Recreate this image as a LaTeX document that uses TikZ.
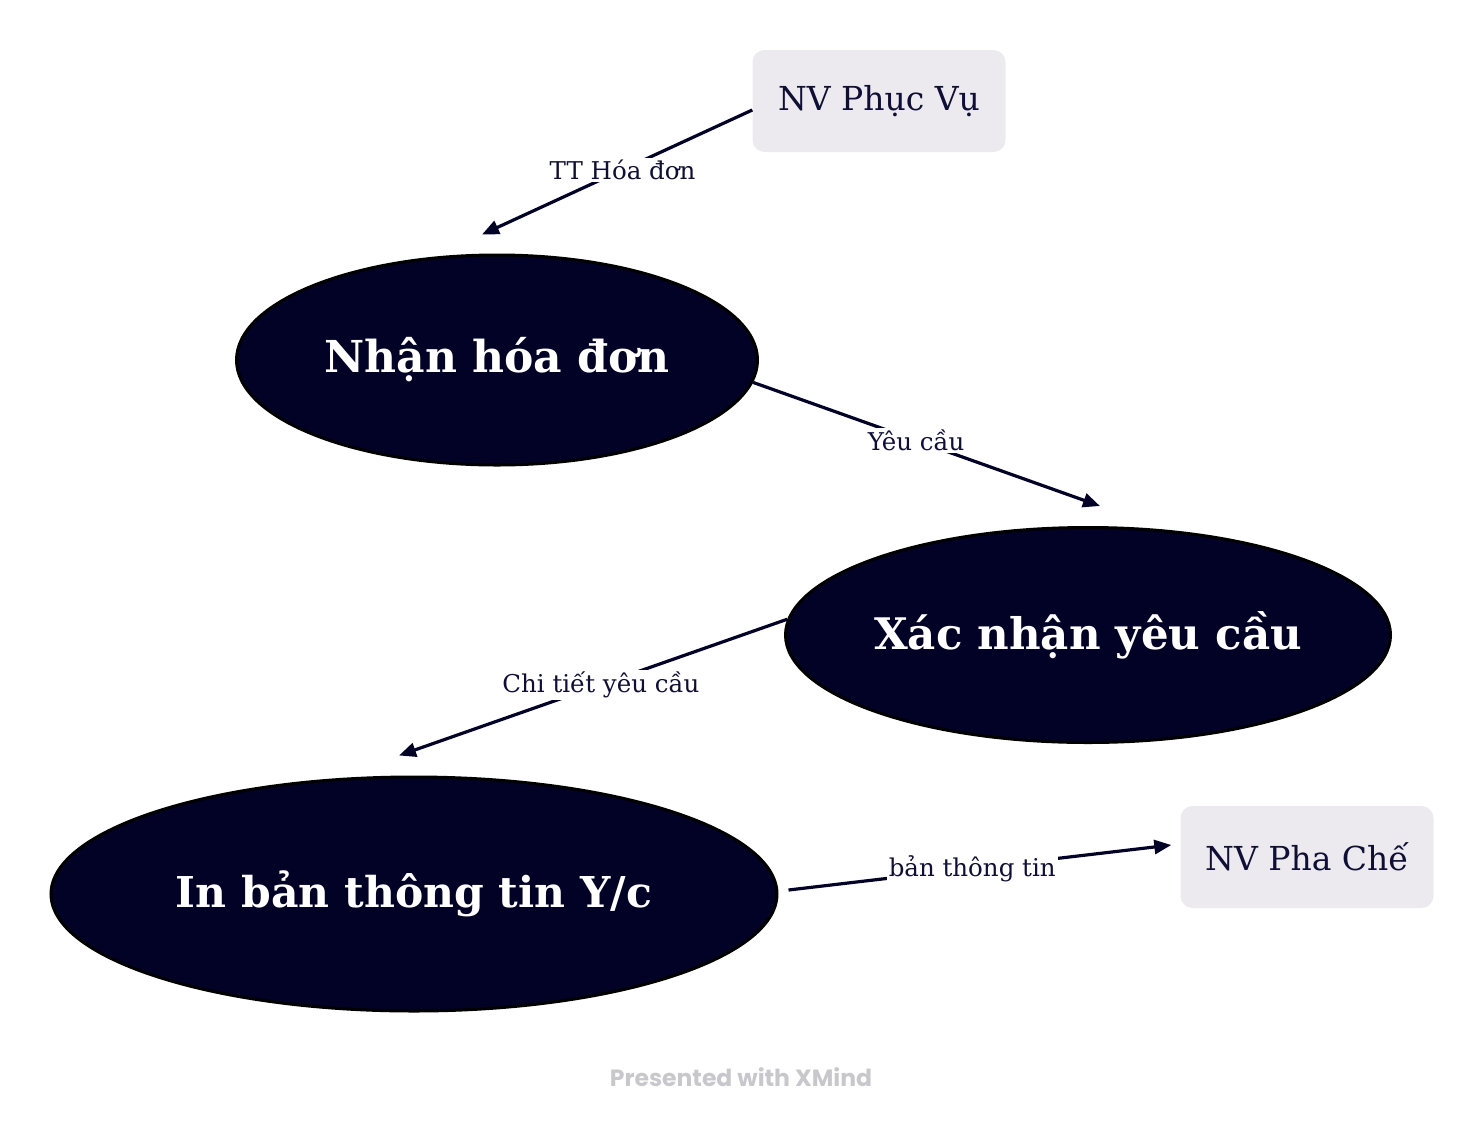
\documentclass[tikz,border=0pt]{standalone}
\usepackage{fontspec}
\setmainfont{DejaVu Serif}
\newfontfamily\markfont{Poppins}
\usetikzlibrary{arrows.meta,shapes.geometric}
\definecolor{navy}{HTML}{020226}
\definecolor{inkblue}{HTML}{0F0F35}
\definecolor{boxgrey}{HTML}{ECEAEE}
\definecolor{markgrey}{HTML}{C8C8CC}
\tikzset{
  taskoval/.style={
    ellipse, draw=black, line width=3pt, fill=navy, text=white,
    inner sep=0pt, font=\fontsize{#1}{50}\selectfont\bfseries
  },
  taskoval/.default=44,
  actorbox/.style={
    rectangle, rounded corners=12pt, fill=boxgrey, text=inkblue,
    minimum width=253pt, minimum height=102pt, inner sep=0pt,
    font=\fontsize{33}{38}\selectfont
  },
  flowarrow/.style={
    -{Triangle[length=17pt,width=14pt]}, line width=3.2pt, color=navy
  },
  flowlabel/.style={
    fill=white, text=inkblue, inner sep=2pt,
    font=\fontsize{24.5}{28}\selectfont
  },
}
\begin{document}
\begin{tikzpicture}[x=1pt, y=-1pt]
  \useasboundingbox (0,0) rectangle (1484,1128);
  \node[actorbox] (phucvu) at (879,101) {NV Phục Vụ};
  \node[actorbox] (phache) at (1307,857) {NV Pha Chế};
  \node[taskoval=44, minimum width=521pt, minimum height=210pt] (nhan) at (497,360) {Nhận hóa đơn};
  \node[taskoval=43.5, minimum width=604pt, minimum height=215pt] (xacnhan) at (1088,635) {Xác nhận yêu cầu};
  \node[taskoval=42.5, minimum width=726pt, minimum height=234pt] (inban) at (414,894) {In bản thông tin Y/c};
  \draw[flowarrow] ([yshift=-9]phucvu.west) -- ([xshift=-15,yshift=19]nhan.north) node[flowlabel, pos=0.48] (lbhoadon) {TT Hóa đơn};
  \draw[flowarrow] (nhan.-5) -- ([xshift=12,yshift=20]xacnhan.north) node[flowlabel, pos=0.47] (lbyeucau) {Yêu cầu};
  \draw[flowarrow] (xacnhan.177) -- ([xshift=-15,yshift=20]inban.north) node[flowlabel, pos=0.48] (lbchitiet) {Chi tiết yêu cầu};
  \draw[flowarrow] ([xshift=10,yshift=4]inban.east) -- ([xshift=-9,yshift=12]phache.west) node[flowlabel, pos=0.48] (lbthongtin) {bản thông tin};
  \node[text=markgrey, font=\markfont\fontsize{23.5}{27}\selectfont\bfseries] (watermark) at (741,1077) {Presented with XMind};
\end{tikzpicture}
\end{document}
